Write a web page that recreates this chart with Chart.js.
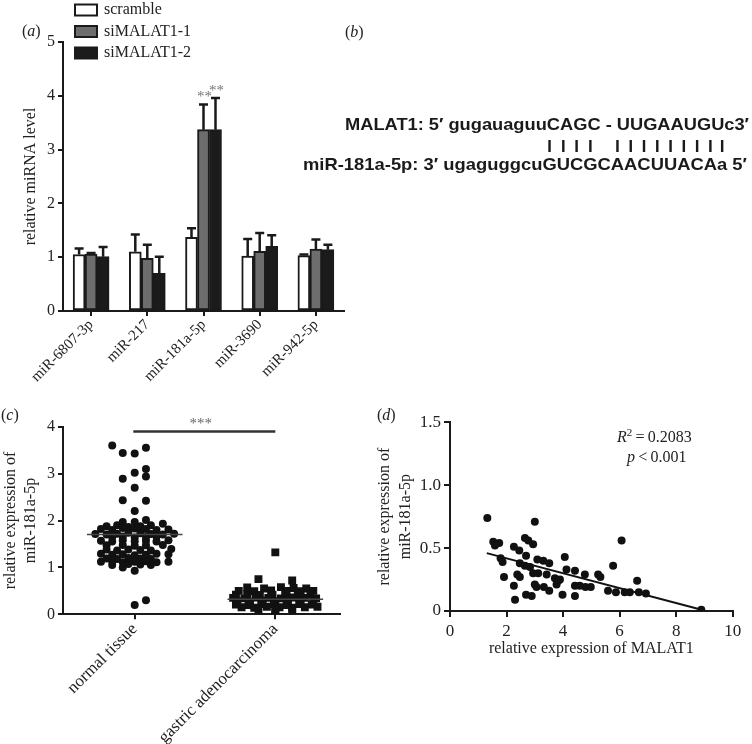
<!DOCTYPE html>
<html>
<head>
<meta charset="utf-8">
<script src="https://cdn.jsdelivr.net/npm/chart.js@4.4.1/dist/chart.umd.min.js"></script>
<style>
  body { margin: 0; background: #fff; width: 752px; height: 744px; position: relative; overflow: hidden; }
  canvas { position: absolute; }
  .tag { position: absolute; font: 16px/18px "Liberation Serif", serif; color: #222; white-space: nowrap; }
</style>
</head>
<body>
<canvas id="chartA" width="350" height="400" style="left:0;top:0"></canvas>
<canvas id="seqB" width="452" height="90" style="left:300px;top:100px"></canvas>
<canvas id="chartC" width="350" height="344" style="left:0;top:400px"></canvas>
<canvas id="chartD" width="382" height="270" style="left:370px;top:400px"></canvas>

<div class="tag" style="left:22px;top:22px">(<i>a</i>)</div>
<div class="tag" style="left:345px;top:23px">(<i>b</i>)</div>
<div class="tag" style="left:1px;top:406px">(<i>c</i>)</div>
<div class="tag" style="left:377px;top:406px">(<i>d</i>)</div>
<div class="tag" style="left:617px;top:428px"><i>R</i><span style="font-size:11px;position:relative;top:-6px">2</span>&#8201;=&#8201;0.2083</div>
<div class="tag" style="left:627px;top:448px"><i>p</i>&#8201;&lt;&#8201;0.001</div>

<script>
// (a) miRNA levels after MALAT1 knockdown
const mirnas = ["miR-6807-3p", "miR-217", "miR-181a-5p", "miR-3690", "miR-942-5p"];
const scramble = [1.05, 1.10, 1.37, 1.02, 1.03];
const scrambleErr = [0.11, 0.32, 0.17, 0.32, 0.02];
const siMalat1 = [1.06, 0.98, 3.37, 1.11, 1.15];
const siMalat1Err = [0.02, 0.25, 0.47, 0.34, 0.18];
const siMalat2 = [1.01, 0.70, 3.37, 1.20, 1.14];
const siMalat2Err = [0.18, 0.31, 0.59, 0.21, 0.09];
const starsA = ["", "", "**", "", ""];

// (b) binding sequences
const malatSeq = "MALAT1: 5\u2032 gugauaguuCAGC - UUGAAUGUc3\u2032";
const mirSeq = "miR-181a-5p: 3\u2032 ugaguggcuGUCGCAACUUACAa 5\u2032";
const pairedIdx = [25, 26, 27, 28, 30, 31, 32, 33, 34, 35, 36, 37, 38]; // chars of mirSeq that pair

// (c) tissue comparison, [offset in group, value]
const groupsC = ["normal tissue", "gastric adenocarcinoma"];
const normalTissue = [
  [-0.16, 3.60], [-0.085, 3.44], [0, 3.43], [0.08, 3.55],
  [0, 3.02], [0.08, 3.10], [0.08, 2.94], [-0.085, 2.89],
  [0, 2.70], [-0.085, 2.43], [0.08, 2.42], [0, 2.20],
  [-0.085, 1.97], [0, 1.97], [0.08, 2.01],
  [-0.2, 1.88], [-0.125, 1.90], [-0.045, 1.86], [0.04, 1.88], [0.115, 1.90], [0.2, 1.93],
  [-0.24, 1.82], [-0.16, 1.80], [-0.085, 1.84], [0, 1.83], [0.08, 1.82], [0.155, 1.80], [0.24, 1.81],
  [-0.28, 1.71], [-0.2, 1.70], [-0.125, 1.72], [-0.045, 1.74], [0.04, 1.73], [0.115, 1.71], [0.2, 1.70], [0.28, 1.72],
  [-0.16, 1.65], [-0.085, 1.66], [0, 1.64], [0.08, 1.65], [0.155, 1.66],
  [-0.24, 1.57], [-0.16, 1.55], [-0.085, 1.58], [0, 1.56], [0.08, 1.57], [0.155, 1.55], [0.24, 1.58],
  [-0.2, 1.47], [-0.085, 1.48], [0, 1.46], [0.08, 1.47], [0.2, 1.48],
  [-0.2, 1.38], [-0.125, 1.36], [-0.045, 1.38], [0.04, 1.37], [0.115, 1.36], [0.26, 1.39],
  [-0.24, 1.29], [-0.16, 1.27], [-0.085, 1.28], [0, 1.26], [0.08, 1.27], [0.155, 1.29], [0.24, 1.28],
  [-0.2, 1.19], [-0.125, 1.18], [-0.045, 1.20], [0.04, 1.19], [0.115, 1.18],
  [-0.24, 1.12], [-0.16, 1.13], [-0.085, 1.11], [0, 1.12], [0.08, 1.13], [0.155, 1.11], [0.24, 1.12],
  [-0.16, 1.05], [-0.045, 1.07], [0.04, 1.06], [0.115, 1.05],
  [-0.085, 1.00], [0, 0.93], [0, 0.20], [0.08, 0.30]
];
const gastricCancer = [
  [0, 1.32], [-0.12, 0.75], [0.12, 0.72],
  [-0.2, 0.57], [-0.08, 0.55], [0.04, 0.58], [0.13, 0.56], [0.22, 0.55],
  [-0.26, 0.50], [-0.15, 0.49], [-0.03, 0.51], [0.08, 0.50], [0.18, 0.49], [0.27, 0.50],
  [-0.28, 0.42], [-0.2, 0.43], [-0.11, 0.41], [-0.02, 0.42], [0.07, 0.43], [0.16, 0.41], [0.25, 0.42],
  [-0.3, 0.35], [-0.22, 0.34], [-0.14, 0.36], [-0.05, 0.35], [0.04, 0.34], [0.12, 0.36], [0.21, 0.35], [0.29, 0.34],
  [-0.27, 0.28], [-0.18, 0.27], [-0.09, 0.29], [0, 0.28], [0.09, 0.27], [0.18, 0.29], [0.27, 0.28],
  [-0.28, 0.21], [-0.19, 0.20], [-0.1, 0.22], [-0.01, 0.21], [0.08, 0.20], [0.17, 0.22], [0.26, 0.21],
  [-0.24, 0.15], [-0.15, 0.14], [-0.06, 0.16], [0.03, 0.15], [0.12, 0.14], [0.21, 0.15], [0.3, 0.16],
  [-0.12, 0.10], [0, 0.09], [0.12, 0.10], [0, 0.03]
];
const groupMeans = [1.70, 0.32];
const sigLevel = 3.9;

// (d) correlation
const malat1 = [1.32, 3.00, 1.53, 1.74, 1.59, 2.26, 2.45, 2.65, 2.77, 2.94, 2.69, 1.79, 1.86, 2.47, 2.65,
  2.83, 3.09, 3.30, 3.51, 4.06, 4.12, 4.42, 2.94, 3.12, 2.38, 2.47, 1.91, 3.42, 3.71, 3.89, 3.77, 3.00,
  3.06, 2.26, 3.32, 3.51, 4.42, 4.59, 4.77, 4.79, 4.98, 5.24, 5.32, 3.98, 4.42, 2.69, 2.89, 2.30, 5.59,
  5.87, 5.77, 6.07, 6.18, 6.36, 6.62, 6.68, 6.93, 8.89, 3.83];
const mir181 = [0.74, 0.71, 0.55, 0.54, 0.52, 0.51, 0.48, 0.58, 0.56, 0.53, 0.44, 0.42, 0.39, 0.38, 0.36,
  0.35, 0.41, 0.40, 0.38, 0.43, 0.33, 0.32, 0.30, 0.30, 0.29, 0.27, 0.27, 0.29, 0.26, 0.25, 0.21, 0.21,
  0.19, 0.20, 0.19, 0.16, 0.20, 0.20, 0.29, 0.19, 0.19, 0.29, 0.27, 0.13, 0.12, 0.13, 0.12, 0.09, 0.16,
  0.15, 0.36, 0.56, 0.15, 0.15, 0.24, 0.15, 0.14, 0.01, 0.24];
const fitLine = [[1.3, 0.46], [8.9, 0.01]];

Chart.defaults.font.family = '"Liberation Serif", "Times New Roman", serif';
Chart.defaults.color = '#222';
Chart.defaults.animation = false;
Chart.defaults.plugins.legend.display = false;
Chart.defaults.plugins.tooltip.enabled = false;

const ink = '#1a1a1a';
const axisLine = { color: ink, width: 2 };
const tickGrid = (len) => ({ drawOnChartArea: false, drawTicks: true, tickLength: len, color: ink, lineWidth: 2 });

const errorBars = {
  id: 'errorBars',
  afterDatasetsDraw(chart) {
    const { ctx, scales: { y } } = chart;
    chart.data.datasets.forEach((ds, i) => {
      if (!ds.errors) return;
      chart.getDatasetMeta(i).data.forEach((bar, j) => {
        const top = y.getPixelForValue(ds.data[j] + ds.errors[j]);
        ctx.save();
        ctx.strokeStyle = ink;
        ctx.lineWidth = 2.5;
        ctx.beginPath();
        ctx.moveTo(bar.x, bar.y);
        ctx.lineTo(bar.x, top);
        ctx.moveTo(bar.x - 4.5, top);
        ctx.lineTo(bar.x + 4.5, top);
        ctx.stroke();
        if (ds.stars && ds.stars[j]) {
          ctx.fillStyle = '#777';
          ctx.font = '15px "Liberation Serif"';
          ctx.textAlign = 'center';
          ctx.fillText(ds.stars[j], bar.x + 1, top - 3);
        }
        ctx.restore();
      });
    });
  }
};

const boxLegend = {
  id: 'boxLegend',
  afterDraw(chart, args, opts) {
    const ctx = chart.ctx;
    chart.data.datasets.forEach((ds, i) => {
      const cy = opts.y + i * opts.gap;
      ctx.save();
      ctx.fillStyle = ds.backgroundColor;
      ctx.strokeStyle = ink;
      ctx.lineWidth = 2;
      ctx.fillRect(opts.x, cy - 5.5, 22, 11);
      ctx.strokeRect(opts.x, cy - 5.5, 22, 11);
      ctx.fillStyle = '#222';
      ctx.font = '16px "Liberation Serif"';
      ctx.textBaseline = 'middle';
      ctx.fillText(ds.label, opts.x + 29, cy);
      ctx.restore();
    });
  }
};

new Chart(document.getElementById('chartA'), {
  type: 'bar',
  data: {
    labels: mirnas,
    datasets: [
      { label: 'scramble', data: scramble, errors: scrambleErr, backgroundColor: '#ffffff' },
      { label: 'siMALAT1-1', data: siMalat1, errors: siMalat1Err, stars: starsA, backgroundColor: '#6d6d6d' },
      { label: 'siMALAT1-2', data: siMalat2, errors: siMalat2Err, stars: starsA, backgroundColor: '#1b1b1b' }
    ]
  },
  options: {
    responsive: false,
    layout: { padding: { left: 20, top: 42, right: 6, bottom: 0 } },
    datasets: { bar: { barThickness: 12, categoryPercentage: 0.82, borderColor: ink, borderWidth: 2, borderSkipped: false } },
    plugins: { boxLegend: { x: 75, y: 10, gap: 21.5 } },
    scales: {
      x: {
        grid: { ...tickGrid(5), offset: false },
        border: axisLine,
        ticks: { font: { size: 15 }, minRotation: 45, maxRotation: 45, autoSkip: false, padding: 0 },
        afterFit: (s) => { s.height = 89; }
      },
      y: {
        min: 0, max: 5,
        ticks: { stepSize: 1, font: { size: 16 }, padding: 3 },
        grid: tickGrid(5),
        border: axisLine,
        title: { display: true, text: 'relative miRNA level', font: { size: 16 }, padding: { top: 1, bottom: 0 } },
        afterFit: (s) => { s.width = 43; }
      }
    }
  },
  plugins: [errorBars, boxLegend]
});

// (b) sequence alignment, plain canvas text
(() => {
  const ctx = document.getElementById('seqB').getContext('2d');
  ctx.fillStyle = ink;
  ctx.font = 'bold 17px "Liberation Sans", Arial, sans-serif';
  const line = (text, right, width, base) => {
    const sx = width / ctx.measureText(text).width;
    const left = right - width;
    ctx.save();
    ctx.translate(left, base);
    ctx.scale(sx, 1);
    ctx.fillText(text, 0, 0);
    ctx.restore();
    return { left, sx };
  };
  line(malatSeq, 449, 404, 30);
  const m = line(mirSeq, 447, 444, 70);
  pairedIdx.forEach((k) => {
    const cx = m.left + (ctx.measureText(mirSeq.slice(0, k)).width + ctx.measureText(mirSeq[k]).width / 2) * m.sx;
    ctx.fillRect(cx - 1.2, 40, 2.4, 12);
  });
})();

const sigStars = {
  id: 'sigStars',
  afterDatasetsDraw(chart) {
    const { ctx, scales: { x, y } } = chart;
    ctx.save();
    ctx.fillStyle = '#666';
    ctx.font = '15px "Liberation Serif"';
    ctx.textAlign = 'center';
    ctx.fillText('***', x.getPixelForValue(1.47), y.getPixelForValue(sigLevel) - 3);
    ctx.restore();
  }
};

const meanHalf = 0.34;
const flat = (cx, v, half) => [{ x: cx - half, y: v }, { x: cx + half, y: v }];

new Chart(document.getElementById('chartC'), {
  type: 'scatter',
  data: {
    datasets: [
      { type: 'line', data: flat(1, groupMeans[0], meanHalf), borderColor: '#444', borderWidth: 1.5, pointRadius: 0 },
      { type: 'line', data: flat(2, groupMeans[1], meanHalf), borderColor: '#444', borderWidth: 1.5, pointRadius: 0 },
      { type: 'line', data: [{ x: 0.99, y: sigLevel }, { x: 2.0, y: sigLevel }], borderColor: '#333', borderWidth: 2.5, pointRadius: 0 },
      { data: normalTissue.map(([d, v]) => ({ x: 1 + d, y: v })), pointStyle: 'circle', pointRadius: 4, backgroundColor: '#111', borderWidth: 0 },
      { data: gastricCancer.map(([d, v]) => ({ x: 2 + d, y: v })), pointStyle: 'rect', pointRadius: 5.6, backgroundColor: '#111', borderWidth: 0 }
    ]
  },
  options: {
    responsive: false,
    layout: { padding: { left: 0, top: 26.7, right: 10, bottom: 0 } },
    scales: {
      x: {
        type: 'linear', min: 0.49, max: 2.46,
        afterBuildTicks: (s) => { s.ticks = [{ value: 1 }, { value: 2 }]; },
        ticks: { font: { size: 17 }, minRotation: 45, maxRotation: 45, autoSkip: false, padding: 0, callback: (v) => groupsC[v - 1] },
        grid: tickGrid(5),
        border: axisLine,
        afterFit: (s) => { s.height = 129.7; }
      },
      y: {
        min: 0, max: 4,
        ticks: { stepSize: 1, font: { size: 16 }, padding: 3 },
        grid: tickGrid(5),
        border: axisLine,
        title: { display: true, text: ['relative expression of', 'miR-181a-5p'], font: { size: 16, lineHeight: 1.3 }, padding: { top: 0, bottom: 0 } },
        afterFit: (s) => { s.width = 63; }
      }
    }
  },
  plugins: [sigStars]
});

new Chart(document.getElementById('chartD'), {
  type: 'scatter',
  data: {
    datasets: [
      { type: 'line', data: fitLine.map(([x, y]) => ({ x, y })), borderColor: '#111', borderWidth: 2, pointRadius: 0 },
      { data: malat1.map((x, i) => ({ x, y: mir181[i] })), pointRadius: 4, backgroundColor: '#111', borderWidth: 0 }
    ]
  },
  options: {
    responsive: false,
    layout: { padding: { left: 0, top: 22.3, right: 19.3, bottom: 10 } },
    scales: {
      x: {
        type: 'linear', min: 0, max: 10,
        ticks: { stepSize: 2, font: { size: 17 }, padding: 4, maxRotation: 0 },
        grid: tickGrid(6),
        border: axisLine,
        title: { display: true, text: 'relative expression of MALAT1', font: { size: 16, lineHeight: 1.3 }, padding: { top: 0, bottom: 1 } },
        afterFit: (s) => { s.height = 49; }
      },
      y: {
        min: 0, max: 1.5,
        ticks: { stepSize: 0.5, font: { size: 17 }, padding: 3, callback: (v) => (v === 0 ? '0' : v.toFixed(1)) },
        grid: tickGrid(6),
        border: axisLine,
        title: { display: true, text: ['relative expression of', 'miR-181a-5p'], font: { size: 16, lineHeight: 1.3 }, padding: { top: 4.6, bottom: 0 } },
        afterFit: (s) => { s.width = 80; }
      }
    }
  }
});
</script>
</body>
</html>
